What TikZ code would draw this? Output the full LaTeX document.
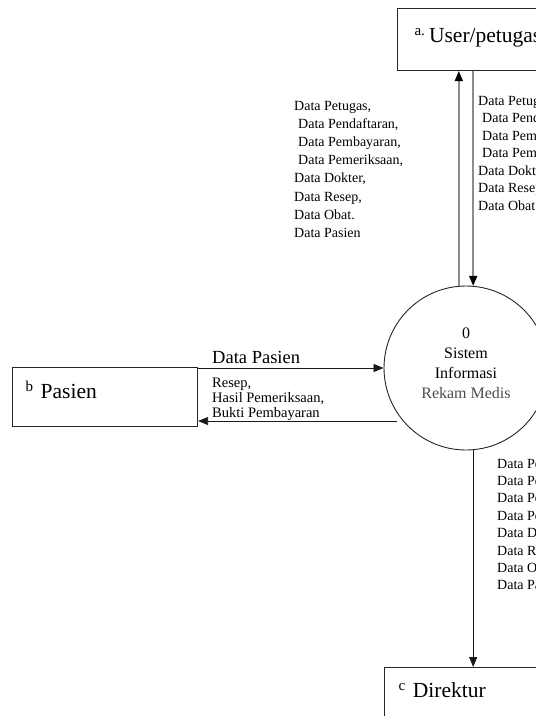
\documentclass[tikz,border=0pt]{standalone}
\usepackage{fontspec}
\setmainfont{Liberation Serif}
\usetikzlibrary{arrows.meta}
\begin{document}
\begin{tikzpicture}[x=1pt,y=-1pt,
  ent/.style={draw=black!85,line width=1.1pt,anchor=north west,inner ysep=0pt,align=left,font=\fontsize{21.5}{24}\selectfont},
  proc/.style={draw=black!85,line width=0.9pt,circle,minimum size=164pt,inner sep=0pt,align=center,font=\fontsize{16}{20}\selectfont},
  arr/.style={-{Triangle[length=10pt,width=8pt]},line width=0.8pt,draw=black!90},
  garr/.style={-{Triangle[length=10pt,width=8pt,color=black]},line width=1.6pt,draw=black!45},
  lbl/.style={inner sep=0pt,anchor=base west,font=\fontsize{14}{17}\selectfont},
]
\useasboundingbox (0,0) rectangle (536,716);
\clip (0,0) rectangle (536,716);

% entities
\node[ent,inner xsep=17pt,text width=240pt,text height=34pt,text depth=28pt] (user) at (397,8)
  {\textsuperscript{a.}\,User/petugas};
\node[ent,inner xsep=13pt,text width=159pt,text height=31pt,text depth=28pt] (pasien) at (12,367)
  {\textsuperscript{b} Pasien};
\node[ent,inner xsep=14pt,text width=200pt,text height=30pt,text depth=40pt] (dir) at (384,667)
  {\textsuperscript{c} Direktur};

% process
\node[proc] (circ) at (466,368) {0\\Sistem\\Informasi\\\textcolor{black!70}{Rekam Medis}\\[-10pt]};

% flows user
\draw[garr] (circ.95.5) -- (circ.95.5 |- user.south);
\draw[garr] (circ.85.8 |- user.south) -- (circ.85.8);

% flows pasien
\draw[arr] (pasien.east |- circ.west) -- (circ.west);
\coordinate (ret) at (397,421);
\draw[arr] (ret) -- (ret -| pasien.east);

% flow direktur
\draw[arr] (circ.-85.8) -- (circ.-85.8 |- dir.north);

% labels left of user flows
\foreach \t [count=\i from 0] in {{Data Petugas,},{\hspace{4pt}Data Pendaftaran,},{\hspace{4pt}Data Pembayaran,},{\hspace{4pt}Data Pemeriksaan,},{Data Dokter,},{Data Resep,},{Data Obat.},{Data Pasien}}
  \node[lbl] (la\i) at (294,110+18.2*\i) {\t};

% labels right of user flows
\foreach \t [count=\i from 0] in {{Data Petugas,},{\hspace{4pt}Data Pendaftaran,},{\hspace{4pt}Data Pembayaran,},{\hspace{4pt}Data Pemeriksaan,},{Data Dokter,},{Data Resep,},{Data Obat.}}
  \node[lbl] (lb\i) at (478,105+17.5*\i) {\t};

% labels direktur flow
\foreach \t [count=\i from 0] in {{Data Petugas,},{Data Pendaftaran,},{Data Pembayaran,},{Data Pemeriksaan,},{Data Dokter,},{Data Resep,},{Data Obat.},{Data Pasien}}
  \node[lbl] (lc\i) at (497,468+17.4*\i) {\t};

% labels pasien flows
\node[lbl,font=\fontsize{18.5}{22}\selectfont] (dp) at (212,363) {Data Pasien};
\node[lbl,font=\fontsize{14.5}{15}\selectfont] (r1) at (212,387) {Resep,};
\node[lbl,font=\fontsize{14.5}{15}\selectfont] (r2) at (212,402) {Hasil Pemeriksaan,};
\node[lbl,font=\fontsize{14.5}{15}\selectfont] (r3) at (212,417) {Bukti Pembayaran};
\end{tikzpicture}
\end{document}
